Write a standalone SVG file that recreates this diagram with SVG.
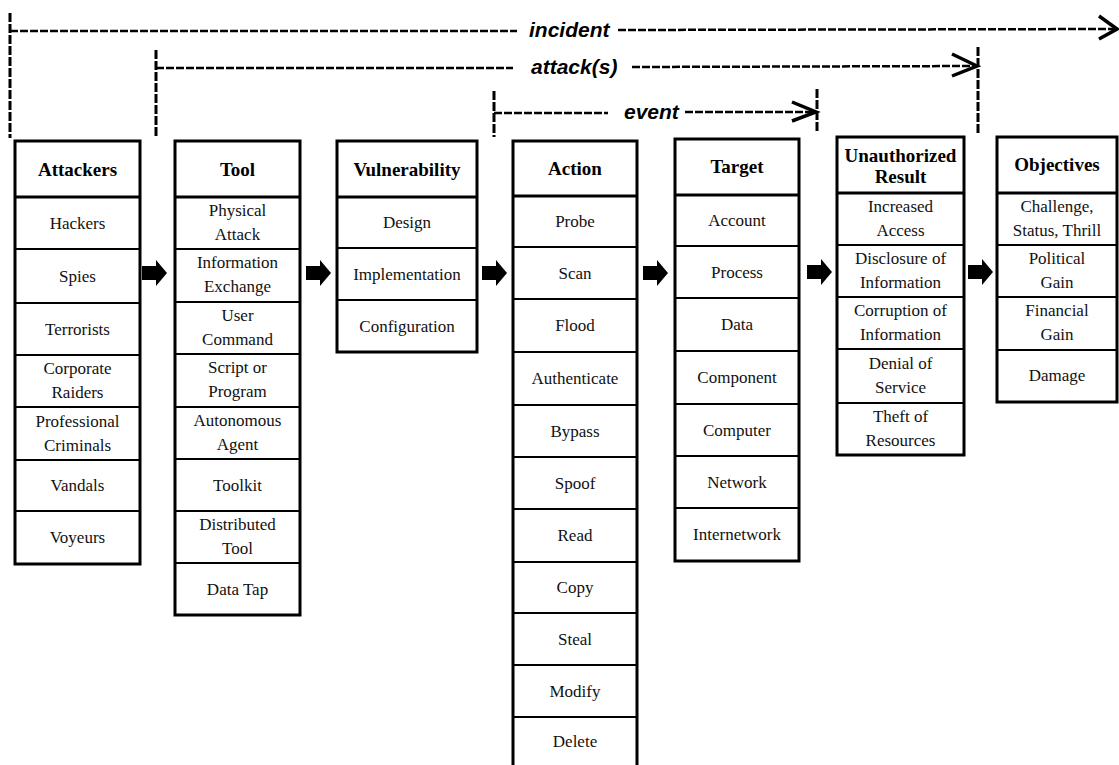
<svg xmlns="http://www.w3.org/2000/svg" xmlns:xlink="http://www.w3.org/1999/xlink" width="1119" height="765" viewBox="0 0 1119 765">
<style>
.box{fill:#fff;stroke:#000;stroke-width:3}
.hdr{stroke:#000;stroke-width:3}
.row{stroke:#000;stroke-width:2}
.h{font-family:"Liberation Serif",serif;font-weight:bold;font-size:19px;text-anchor:middle;fill:#000}
.c{font-family:"Liberation Serif",serif;font-size:17px;text-anchor:middle;fill:#111}
.lbl{font-family:"Liberation Sans",sans-serif;font-weight:bold;font-style:italic;font-size:21px;fill:#000}
.dash{stroke:#000;stroke-width:2.5;stroke-dasharray:8 2;fill:none}
.vd{stroke:#000;stroke-width:3;stroke-dasharray:9 2;fill:none}
.chev{fill:none;stroke:#000;stroke-width:3.5;stroke-linejoin:miter}
.blk{fill:#000}
</style>
<defs>
<path id="blockArrow" class="blk" d="M0,-7 H14 V-13 L25,0 L14,13 V7 H0 Z"/>
</defs>
<rect width="1119" height="765" fill="#fff"/>

<g id="connectors">
  <!-- incident -->
  <line class="vd" x1="10" y1="13" x2="10" y2="138"/>
  <line class="dash" x1="10" y1="31" x2="517" y2="31"/>
  <text class="lbl" x="529" y="37">incident</text>
  <line class="dash" x1="618" y1="30" x2="1114" y2="29"/>
  <polyline class="chev" points="1099,16 1117,29 1099,39"/>
  <!-- attack(s) -->
  <line class="vd" x1="156" y1="50" x2="156" y2="138"/>
  <line class="dash" x1="156" y1="68" x2="513" y2="68"/>
  <text class="lbl" x="531" y="74">attack(s)</text>
  <line class="dash" x1="632" y1="67" x2="975" y2="66"/>
  <polyline class="chev" points="952,54 977,66 952,76"/>
  <line class="vd" x1="978" y1="47" x2="978" y2="133"/>
  <!-- event -->
  <line class="vd" x1="494" y1="91" x2="494" y2="137"/>
  <line class="dash" x1="494" y1="113" x2="608" y2="113"/>
  <text class="lbl" x="624" y="119">event</text>
  <line class="dash" x1="685" y1="112" x2="814" y2="112"/>
  <polyline class="chev" points="792,102 816,112 792,121"/>
  <line class="vd" x1="817" y1="89" x2="817" y2="133"/>
  <!-- block arrows -->
  <use xlink:href="#blockArrow" x="142" y="273"/>
  <use xlink:href="#blockArrow" x="306" y="273"/>
  <use xlink:href="#blockArrow" x="482" y="273"/>
  <use xlink:href="#blockArrow" x="643" y="273"/>
  <use xlink:href="#blockArrow" x="807" y="272"/>
  <use xlink:href="#blockArrow" x="968" y="272"/>
</g>

<g id="attackers">
  <rect class="box" x="15" y="141" width="125" height="423"/>
  <line class="hdr" x1="15" y1="197" x2="140" y2="197"/>
  <line class="row" x1="15" y1="249" x2="140" y2="249"/>
  <line class="row" x1="15" y1="303" x2="140" y2="303"/>
  <line class="row" x1="15" y1="355" x2="140" y2="355"/>
  <line class="row" x1="15" y1="407" x2="140" y2="407"/>
  <line class="row" x1="15" y1="460" x2="140" y2="460"/>
  <line class="row" x1="15" y1="511" x2="140" y2="511"/>
  <text class="h" x="77.5" y="176">Attackers</text>
  <text class="c" x="77.5" y="229">Hackers</text>
  <text class="c" x="77.5" y="282">Spies</text>
  <text class="c" x="77.5" y="335">Terrorists</text>
  <text class="c" x="77.5" y="374">Corporate</text>
  <text class="c" x="77.5" y="398">Raiders</text>
  <text class="c" x="77.5" y="427">Professional</text>
  <text class="c" x="77.5" y="451">Criminals</text>
  <text class="c" x="77.5" y="491">Vandals</text>
  <text class="c" x="77.5" y="543">Voyeurs</text>
</g>

<g id="tool">
  <rect class="box" x="175" y="141" width="125" height="474"/>
  <line class="hdr" x1="175" y1="197" x2="300" y2="197"/>
  <line class="row" x1="175" y1="249" x2="300" y2="249"/>
  <line class="row" x1="175" y1="302" x2="300" y2="302"/>
  <line class="row" x1="175" y1="354" x2="300" y2="354"/>
  <line class="row" x1="175" y1="407" x2="300" y2="407"/>
  <line class="row" x1="175" y1="459" x2="300" y2="459"/>
  <line class="row" x1="175" y1="511" x2="300" y2="511"/>
  <line class="row" x1="175" y1="563" x2="300" y2="563"/>
  <text class="h" x="237.5" y="176">Tool</text>
  <text class="c" x="237.5" y="216">Physical</text>
  <text class="c" x="237.5" y="240">Attack</text>
  <text class="c" x="237.5" y="268">Information</text>
  <text class="c" x="237.5" y="292">Exchange</text>
  <text class="c" x="237.5" y="321">User</text>
  <text class="c" x="237.5" y="345">Command</text>
  <text class="c" x="237.5" y="373">Script or</text>
  <text class="c" x="237.5" y="397">Program</text>
  <text class="c" x="237.5" y="426">Autonomous</text>
  <text class="c" x="237.5" y="450">Agent</text>
  <text class="c" x="237.5" y="491">Toolkit</text>
  <text class="c" x="237.5" y="530">Distributed</text>
  <text class="c" x="237.5" y="554">Tool</text>
  <text class="c" x="237.5" y="595">Data Tap</text>
</g>

<g id="vulnerability">
  <rect class="box" x="337" y="141" width="140" height="211"/>
  <line class="hdr" x1="337" y1="197" x2="477" y2="197"/>
  <line class="row" x1="337" y1="248" x2="477" y2="248"/>
  <line class="row" x1="337" y1="300" x2="477" y2="300"/>
  <text class="h" x="407" y="176">Vulnerability</text>
  <text class="c" x="407" y="228">Design</text>
  <text class="c" x="407" y="280">Implementation</text>
  <text class="c" x="407" y="332">Configuration</text>
</g>

<g id="action">
  <rect class="box" x="513" y="141" width="124" height="630"/>
  <line class="hdr" x1="513" y1="196" x2="637" y2="196"/>
  <line class="row" x1="513" y1="247" x2="637" y2="247"/>
  <line class="row" x1="513" y1="299" x2="637" y2="299"/>
  <line class="row" x1="513" y1="352" x2="637" y2="352"/>
  <line class="row" x1="513" y1="405" x2="637" y2="405"/>
  <line class="row" x1="513" y1="457" x2="637" y2="457"/>
  <line class="row" x1="513" y1="509" x2="637" y2="509"/>
  <line class="row" x1="513" y1="562" x2="637" y2="562"/>
  <line class="row" x1="513" y1="613" x2="637" y2="613"/>
  <line class="row" x1="513" y1="665" x2="637" y2="665"/>
  <line class="row" x1="513" y1="717" x2="637" y2="717"/>
  <text class="h" x="575" y="175">Action</text>
  <text class="c" x="575" y="227">Probe</text>
  <text class="c" x="575" y="279">Scan</text>
  <text class="c" x="575" y="331">Flood</text>
  <text class="c" x="575" y="384">Authenticate</text>
  <text class="c" x="575" y="437">Bypass</text>
  <text class="c" x="575" y="489">Spoof</text>
  <text class="c" x="575" y="541">Read</text>
  <text class="c" x="575" y="593">Copy</text>
  <text class="c" x="575" y="645">Steal</text>
  <text class="c" x="575" y="697">Modify</text>
  <text class="c" x="575" y="747">Delete</text>
</g>

<g id="target">
  <rect class="box" x="675" y="139" width="124" height="422"/>
  <line class="hdr" x1="675" y1="195" x2="799" y2="195"/>
  <line class="row" x1="675" y1="246" x2="799" y2="246"/>
  <line class="row" x1="675" y1="298" x2="799" y2="298"/>
  <line class="row" x1="675" y1="351" x2="799" y2="351"/>
  <line class="row" x1="675" y1="404" x2="799" y2="404"/>
  <line class="row" x1="675" y1="456" x2="799" y2="456"/>
  <line class="row" x1="675" y1="508" x2="799" y2="508"/>
  <text class="h" x="737" y="173">Target</text>
  <text class="c" x="737" y="226">Account</text>
  <text class="c" x="737" y="278">Process</text>
  <text class="c" x="737" y="330">Data</text>
  <text class="c" x="737" y="383">Component</text>
  <text class="c" x="737" y="436">Computer</text>
  <text class="c" x="737" y="488">Network</text>
  <text class="c" x="737" y="540">Internetwork</text>
</g>

<g id="unauthorized-result">
  <rect class="box" x="837" y="137" width="127" height="318"/>
  <line class="hdr" x1="837" y1="193" x2="964" y2="193"/>
  <line class="row" x1="837" y1="245" x2="964" y2="245"/>
  <line class="row" x1="837" y1="297" x2="964" y2="297"/>
  <line class="row" x1="837" y1="349" x2="964" y2="349"/>
  <line class="row" x1="837" y1="403" x2="964" y2="403"/>
  <text class="h" x="900.5" y="162">Unauthorized</text>
  <text class="h" x="900.5" y="183">Result</text>
  <text class="c" x="900.5" y="212">Increased</text>
  <text class="c" x="900.5" y="236">Access</text>
  <text class="c" x="900.5" y="264">Disclosure of</text>
  <text class="c" x="900.5" y="288">Information</text>
  <text class="c" x="900.5" y="316">Corruption of</text>
  <text class="c" x="900.5" y="340">Information</text>
  <text class="c" x="900.5" y="369">Denial of</text>
  <text class="c" x="900.5" y="393">Service</text>
  <text class="c" x="900.5" y="422">Theft of</text>
  <text class="c" x="900.5" y="446">Resources</text>
</g>

<g id="objectives">
  <rect class="box" x="997" y="137" width="120" height="265"/>
  <line class="hdr" x1="997" y1="193" x2="1117" y2="193"/>
  <line class="row" x1="997" y1="245" x2="1117" y2="245"/>
  <line class="row" x1="997" y1="297" x2="1117" y2="297"/>
  <line class="row" x1="997" y1="350" x2="1117" y2="350"/>
  <text class="h" x="1057" y="171">Objectives</text>
  <text class="c" x="1057" y="212">Challenge,</text>
  <text class="c" x="1057" y="236">Status, Thrill</text>
  <text class="c" x="1057" y="264">Political</text>
  <text class="c" x="1057" y="288">Gain</text>
  <text class="c" x="1057" y="316">Financial</text>
  <text class="c" x="1057" y="340">Gain</text>
  <text class="c" x="1057" y="381">Damage</text>
</g>
</svg>
